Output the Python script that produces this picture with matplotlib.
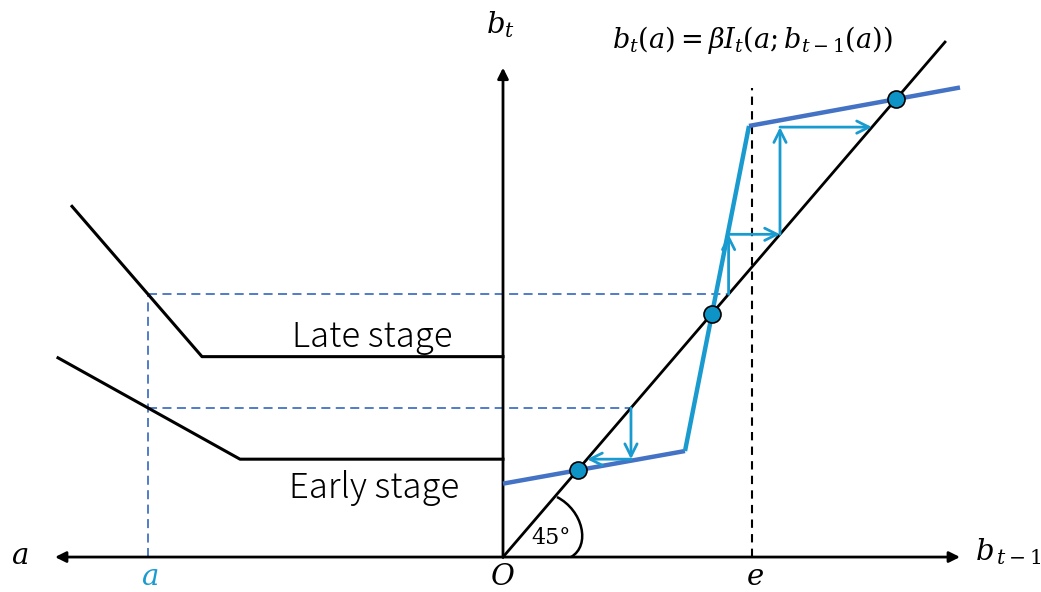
import numpy as np
import matplotlib
matplotlib.use("Agg")
import matplotlib.pyplot as plt
from matplotlib.path import Path
from matplotlib.patches import PathPatch

plt.rcParams["mathtext.fontset"] = "dejavuserif"

# ---- values ----
# right panel: b_t as a function of b_{t-1}, three linear pieces
low_x, low_y = [0, 182], [63, 91]
mid_x, mid_y = [182, 246], [91, 370]
high_x, high_y = [246, 457], [370, 403]
# fixed points (on the 45 degree line)
fixed_pts = [75, 209, 393]
# threshold e
e_level = 249
# left panel: b against a (a grows to the left)
late_a, late_b = [-431, -301, 0], [301, 172, 172]
early_a, early_b = [-445, -263, 0], [171, 84, 84]
a_star = -355
# cobweb iterates after the starting levels
cob_low_next = [84]
cob_high_next = [277, 369]

# axis extents
x_left, x_right = -448, 457
y_top = 420
diag_end = 442

DARK = "#4472C4"
LIGHT = "#1A9BCF"
DOT = "#0E93C6"

fig = plt.figure(figsize=(10.41, 5.92), dpi=100)
ax = fig.add_axes([0, 0, 1, 1])
ax.set_xlim(-503, 538)
ax.set_ylim(-30.0, 478.1)
ax.axis("off")

def arrow(x0, y0, x1, y1, color, lw, style="-|>", ms=14, z=3):
    ax.annotate("", xy=(x1, y1), xytext=(x0, y0),
                arrowprops=dict(arrowstyle=style, color=color, lw=lw,
                                mutation_scale=ms, shrinkA=0, shrinkB=0),
                zorder=z)

# axes
arrow(0, 0, x_left, 0, "black", 2.0, ms=16)
arrow(0, 0, x_right, 0, "black", 2.0, ms=16)
arrow(0, 0, 0, y_top, "black", 2.0, ms=16)

# 45 degree line
ax.plot([0, diag_end], [0, diag_end], color="black", lw=2.0, zorder=2)

# threshold e
ax.plot([e_level, e_level], [0, high_y[1]], color="black", lw=1.5,
        dashes=(4, 3), zorder=1)

# starting levels from the two stage curves at a*
lvl_late = float(np.interp(a_star, late_a, late_b))
lvl_early = float(np.interp(a_star, early_a, early_b))

# dashed guides
for lvl in (lvl_late, lvl_early):
    ax.plot([a_star, lvl], [lvl, lvl], color=DARK, lw=1.3, dashes=(5, 3), zorder=1)
ax.plot([a_star, a_star], [0, lvl_late], color=DARK, lw=1.3, dashes=(5, 3), zorder=1)

# stage curves
ax.plot(late_a, late_b, color="black", lw=2.2, zorder=2)
ax.plot(early_a, early_b, color="black", lw=2.2, zorder=2)

# response curve
ax.plot(low_x, low_y, color=DARK, lw=3.2, zorder=3, solid_capstyle="butt")
ax.plot(mid_x, mid_y, color=LIGHT, lw=3.2, zorder=3, solid_capstyle="butt")
ax.plot(high_x, high_y, color=DARK, lw=3.2, zorder=3, solid_capstyle="butt")

# cobweb arrows
def cobweb(start, nxt):
    seq = [start] + list(nxt)
    for a, b in zip(seq[:-1], seq[1:]):
        arrow(a, a, a, b, LIGHT, 2.0, style="->", ms=22, z=4)
        arrow(a, b, b, b, LIGHT, 2.0, style="->", ms=22, z=4)

cobweb(lvl_early, cob_low_next)
cobweb(lvl_late, cob_high_next)

# fixed points
ax.scatter(fixed_pts, fixed_pts, s=150, color=DOT, edgecolor="black",
           linewidth=1.2, zorder=6)

# 45 degree angle marker
verts = [(54, 51.5), (80, 40), (88, 10), (68, 0)]
ax.add_patch(PathPatch(Path(verts, [Path.MOVETO, Path.CURVE4, Path.CURVE4, Path.CURVE4]),
                       fill=False, lw=1.8, color="black", zorder=2))
ax.text(48, 16, "45°", fontsize=16, family="DejaVu Serif", ha="center", va="center")

# labels
stage_font = dict(fontsize=25, family="Noto Sans CJK JP", fontweight="light",
                  ha="center", va="baseline")
ax.text(-131, 180.5, "Late stage", **stage_font)
ax.text(-129, 50.5, "Early stage", **stage_font)

ax.text(-3, 457, r"$b_t$", fontsize=21, ha="center", va="center")
ax.text(249, 444, r"$b_t(a)=\beta I_t(a;b_{t-1}(a))$", fontsize=19.5, ha="center", va="center")
ax.text(505, 5, r"$b_{\,t-1}$", fontsize=21, ha="center", va="center")
ax.text(-483, 1, r"$a$", fontsize=21, ha="center", va="center")
ax.text(a_star + 2, -17, r"$a$", fontsize=21, color=LIGHT, ha="center", va="center")
ax.text(0, -17, r"$O$", fontsize=21, ha="center", va="center")
ax.text(e_level + 3, -17, r"$e$", fontsize=21, ha="center", va="center")

fig.savefig("out.png", dpi=100)
